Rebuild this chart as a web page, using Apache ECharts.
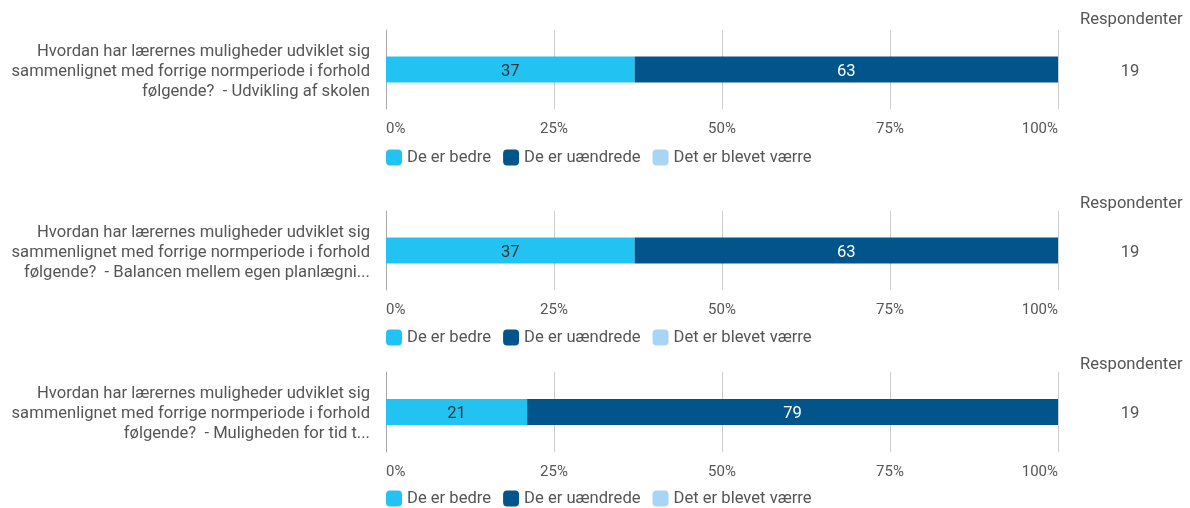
<!DOCTYPE html>
<html>
<head>
<meta charset="utf-8">
<script src="https://cdn.jsdelivr.net/npm/echarts@6/dist/echarts.min.js"></script>
<style>
html,body{margin:0;padding:0;background:#fff;}
#chart{width:1190px;height:508px;}
</style>
</head>
<body>
<div id="chart"></div>
<script>
var questions = [
  "Hvordan har lærernes muligheder udviklet sig\nsammenlignet med forrige normperiode i forhold\nfølgende?  - Udvikling af skolen",
  "Hvordan har lærernes muligheder udviklet sig\nsammenlignet med forrige normperiode i forhold\nfølgende?  - Balancen mellem egen planlægni...",
  "Hvordan har lærernes muligheder udviklet sig\nsammenlignet med forrige normperiode i forhold\nfølgende?  - Muligheden for tid t..."
];
var seriesNames = ["De er bedre", "De er uændrede", "Det er blevet værre"];
var bedre = [37, 37, 21];
var uaendrede = [63, 63, 79];
var vaerre = [0, 0, 0];
var respondents = [19, 19, 19];
var tickValues = [0, 25, 50, 75, 100];

var colors = ["#22C3F3", "#02558B", "#A8D4F5"];
var labelColors = ["#333333", "#ffffff", "#333333"];
var font = "Roboto, 'Noto Sans', sans-serif";
var textGrey = "#555555";

var panels = [
  {top: 30, height: 79, titleTop: 11, legendTop: 149},
  {top: 211, height: 79, titleTop: 195, legendTop: 329},
  {top: 372, height: 80, titleTop: 356, legendTop: 490}
];

var richText = {
  s: {fontSize: 4, lineHeight: 4},
  a: {fontSize: 16.6, lineHeight: 20, fontFamily: font, color: textGrey}
};
function shiftDown(v) {
  return '{s| }\n' + String(v).split('\n').map(function (l) { return '{a|' + l + '}'; }).join('\n');
}

var grid = [], xAxis = [], yAxis = [], series = [], legend = [], title = [];
var valuesBySeries = [bedre, uaendrede, vaerre];

panels.forEach(function (p, i) {
  grid.push({left: 386, width: 672, top: p.top, height: p.height, containLabel: false});
  xAxis.push({
    type: 'value', gridIndex: i, min: tickValues[0], max: tickValues[tickValues.length - 1], interval: 25,
    axisLine: {show: false}, axisTick: {show: false},
    splitLine: {show: true, lineStyle: {color: '#cccccc', width: 1}},
    axisLabel: {
      formatter: '{value}%', color: textGrey, fontSize: 15, fontFamily: font, margin: 13,
      alignMinLabel: 'left', alignMaxLabel: 'right'
    }
  });
  yAxis.push({
    type: 'category', gridIndex: i, data: [questions[i]],
    axisLine: {show: true, lineStyle: {color: '#a8a8a8', width: 1}},
    axisTick: {show: false},
    axisLabel: {
      color: textGrey, fontSize: 16.6, fontFamily: font, margin: 16, align: 'right',
      formatter: shiftDown, rich: richText
    }
  });
  title.push({
    text: 'Respondenter', left: 1080, top: p.titleTop, padding: 0,
    textStyle: {color: textGrey, fontSize: 16.6, fontWeight: 'normal', fontFamily: font}
  });
  legend.push({
    data: seriesNames, left: 386, top: p.legendTop, padding: 0,
    itemWidth: 16, itemHeight: 16, itemGap: 12, icon: 'roundRect',
    textStyle: {color: textGrey, fontSize: 16.6, fontFamily: font}
  });
});

panels.forEach(function (p, i) {
  yAxis.push({
    type: 'category', gridIndex: i, position: 'right', data: [String(respondents[i])],
    axisLine: {show: false}, axisTick: {show: false}, splitLine: {show: false},
    axisLabel: {
      color: textGrey, fontSize: 16.6, fontFamily: font, margin: 72, align: 'center',
      formatter: shiftDown, rich: richText
    }
  });
});

panels.forEach(function (p, i) {
  seriesNames.forEach(function (name, s) {
    series.push({
      name: name, type: 'bar', stack: 'panel' + i,
      xAxisIndex: i, yAxisIndex: i, barWidth: 26,
      itemStyle: {color: colors[s]},
      label: {
        show: true, position: 'inside', color: labelColors[s], fontSize: 16.6, fontFamily: font,
        offset: [0, 2],
        formatter: function (d) { return d.value ? String(d.value) : ''; }
      },
      data: [valuesBySeries[s][i]]
    });
  });
});

var chart = echarts.init(document.getElementById('chart'), null, {renderer: 'canvas'});
chart.setOption({
  animation: false,
  color: colors,
  title: title,
  grid: grid,
  xAxis: xAxis,
  yAxis: yAxis,
  legend: legend,
  series: series
});
</script>
</body>
</html>
